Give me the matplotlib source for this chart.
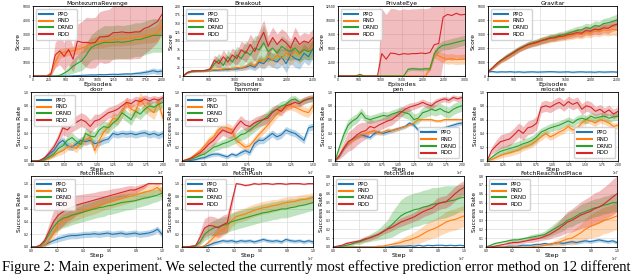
import numpy as np
import matplotlib
matplotlib.use("Agg")
import matplotlib.pyplot as plt
from matplotlib.lines import Line2D

methods = ["PPO", "RND", "DRND", "RDD"]
colors = ["#1f77b4", "#ff7f0e", "#2ca02c", "#d62728"]

# ---------------- MontezumaRevenge ----------------
mr_ppo = [0,0,0,0,0,0,0,0,0,20, 30,50,60,80,70,100,90,110,120,110, 130,150,140,180,200,250,300,380,300,350]
mr_ppo_sd = [0,0,0,0,0,0,0,0,0,20, 30,40,50,60,60,70,70,80,80,90, 90,100,100,120,140,160,180,200,200,220]
mr_rnd = [0,0,0,0,200,1000,1600,1700,1750,1800, 1900,2000,2100,2300,2400,2450,2500,2550,2600,2600, 2650,2700,2700,2750,2800,2850,2900,2950,3100,3600]
mr_rnd_sd = [0,0,0,0,150,400,350,300,300,300, 350,350,400,400,400,450,450,450,450,450, 500,500,500,500,500,500,550,550,600,700]
mr_drnd = [0,0,0,0,0,0,50,200,400,700, 900,1100,1500,2000,2200,2300,2400,2400,2400,2450, 2400,2450,2500,2600,2600,2700,2800,2900,2900,2900]
mr_drnd_sd = [0,0,0,0,0,0,50,150,300,500, 600,700,800,900,1000,1100,1200,1200,1200,1200, 1200,1200,1200,1200,1200,1200,1200,1200,1200,1200]
mr_rdd = [0,0,0,0,100,1500,1800,1400,1900,1200, 2500,2400,2400,2350,2400,2800,2800,2850,3100,3100, 3150,3100,3100,3150,3150,3400,3500,3700,3900,4400]
mr_rdd_sd = [0,0,0,0,150,900,1000,1000,1100,900, 1200,1500,1800,1800,1800,1800,1900,1900,1900,1900, 1900,1900,1900,1900,1900,1800,1700,1600,1500,1200]

# ---------------- Breakout ----------------
bo_ppo = [0,10,14,15,15,15,16,16,17,18, 18,20,20,22,25,30,25,40,35,50, 45,40,55,35,60,50,45,65,55,80]
bo_ppo_sd = [0,2,3,3,3,3,3,3,4,4, 5,5,6,6,8,10,10,15,15,20, 20,20,25,25,25,25,25,25,25,30]
bo_rnd = [0,10,14,15,15,15,16,18,18,20, 22,20,25,22,28,35,30,45,40,55, 45,60,50,65,55,70,60,75,70,85]
bo_rnd_sd = [0,2,3,3,3,3,3,4,4,5, 5,5,6,6,8,10,10,15,15,20, 20,20,20,25,25,25,25,25,25,25]
bo_drnd = [0,10,14,15,15,16,18,35,45,30, 55,40,60,50,70,60,80,75,95,70, 80,65,85,75,70,80,65,75,70,75]
bo_drnd_sd = [0,2,3,3,3,3,5,15,20,15, 20,20,25,25,30,30,35,40,50,30, 30,25,30,30,25,30,25,25,25,25]
bo_rdd = [0,10,14,15,15,16,20,45,35,55, 40,60,50,75,65,90,70,100,125,85, 110,90,105,95,80,110,90,100,95,110]
bo_rdd_sd = [0,2,3,3,3,3,5,15,15,20, 15,20,20,25,25,30,30,30,35,30, 30,30,30,30,25,30,25,25,25,25]

# ---------------- PrivateEye ----------------
pe_ppo = [0,0,0,0,0,0,0,0,0,0, 0,0,0,0,0,0,0,0,0,0, 0,0,0,0,0,0,0,0,0,0]
pe_ppo_sd = [0,0,0,0,0,0,0,0,0,0, 0,0,0,0,0,0,0,0,0,0, 0,0,0,0,0,0,0,0,0,0]
pe_rnd = [0,0,0,0,0,0,0,0,0,0, 0,0,0,0,0,0,0,0,0,0, 0,1500,4000,3600,3200,3000,3100,2900,3000,3000]
pe_rnd_sd = [0,0,0,0,0,0,0,0,0,0, 0,0,0,0,0,0,0,0,0,0, 0,500,800,800,900,900,900,900,900,900]
pe_drnd = [0,0,0,0,0,300,0,0,0,0, 0,0,0,0,0,0,1200,1300,1250,1200, 1300,1250,4000,5000,5500,5600,5800,6000,6200,6400]
pe_drnd_sd = [0,0,0,0,0,150,0,0,0,0, 0,0,0,0,0,0,300,300,300,300, 300,300,700,800,800,900,900,900,900,900]
pe_rdd = [0,0,0,0,0,0,0,0,0,0, 4000,3000,4100,4000,3800,4000,3900,4000,4000,4100, 4000,4200,5600,5800,10500,11000,10800,11200,10900,11000]
pe_rdd_sd = [0,0,0,0,0,0,0,0,0,0, 8000,8000,8000,8000,8000,8000,8000,8000,8000,8000, 8000,8000,8000,8000,8000,8000,8000,8000,8000,8000]

# ---------------- Gravitar ----------------
gv_ppo = [300,320,280,300,290,310,280,300,270,290, 300,280,290,300,310,300,280,290,300,270, 290,300,280,290,270,300,280,290,300,280]
gv_ppo_sd = [60,60,60,60,60,60,60,60,60,60, 60,60,60,60,60,60,60,60,60,60, 60,60,60,60,60,60,60,60,60,60]
gv_rnd = [300,550,850,1100,1300,1500,1700,1900,2050,2200, 2300,2350,2500,2550,2650,2700,2750,2800,2850,2900, 3000,2950,3100,3050,3200,3150,3300,3250,3350,3300]
gv_rnd_sd = [50,100,150,150,200,200,200,200,200,220, 220,220,240,240,250,250,260,260,280,280, 300,300,320,320,340,350,380,400,420,450]
gv_drnd = [300,600,900,1150,1350,1550,1750,1950,2100,2250, 2350,2450,2550,2650,2750,2800,2900,2950,3050,3150, 3250,3300,3450,3400,3600,3550,3750,3800,3900,4000]
gv_drnd_sd = [50,100,150,150,200,200,200,200,200,220, 220,220,240,240,250,250,260,260,280,280, 300,300,320,320,340,350,360,380,400,420]
gv_rdd = [300,580,880,1120,1330,1520,1720,1920,2080,2230, 2320,2400,2520,2600,2700,2720,2820,2850,2950,3000, 3100,3050,3250,3200,3350,3300,3450,3400,3600,3700]
gv_rdd_sd = [50,100,150,150,200,200,200,200,200,220, 220,220,240,240,250,250,260,260,280,280, 300,300,320,320,340,350,360,380,400,420]

# ---------------- door ----------------
door_ppo = [0,0,.01,.04,.10,.15,.25,.30,.22,.20, .25,.30,.28,.30,.25,.27,.30,.32,.40,.38, .40,.39,.40,.38,.40,.41,.38,.40,.37,.40]
door_ppo_sd = [0,0,.01,.02,.03,.04,.05,.05,.05,.05, .05,.05,.05,.05,.05,.05,.05,.05,.05,.05, .05,.05,.05,.05,.05,.05,.05,.05,.05,.05]
door_rnd = [0,0,0,.01,.04,.08,.12,.15,.20,.22, .18,.28,.30,.35,.15,.30,.42,.50,.62,.60, .70,.85,.75,.72,.90,.80,.75,.70,.85,.62]
door_rnd_sd = [0,0,0,.01,.02,.03,.04,.05,.05,.06, .06,.07,.07,.08,.06,.08,.08,.08,.08,.08, .08,.08,.08,.10,.10,.10,.10,.10,.10,.10]
door_drnd = [0,0,0,.02,.06,.10,.18,.22,.30,.34, .28,.24,.40,.36,.35,.45,.50,.48,.55,.60, .70,.65,.60,.72,.68,.75,.80,.78,.82,.85]
door_drnd_sd = [0,0,0,.01,.03,.04,.05,.06,.06,.07, .07,.07,.08,.08,.08,.08,.08,.08,.08,.08, .08,.08,.08,.08,.08,.08,.08,.08,.08,.08]
door_rdd = [0,0,.01,.05,.12,.20,.32,.48,.45,.52, .56,.60,.57,.50,.58,.60,.65,.70,.72,.75, .80,.85,.83,.88,.86,.90,.87,.90,.88,.92]
door_rdd_sd = [0,0,.01,.03,.05,.06,.08,.10,.10,.10, .10,.10,.10,.10,.10,.08,.08,.08,.08,.08, .07,.07,.07,.06,.06,.06,.06,.05,.05,.05]

# ---------------- hammer ----------------
ham_ppo = [0,0,.01,.02,.04,.05,.08,.10,.10,.08, .06,.10,.08,.12,.15,.12,.25,.30,.30,.35, .40,.35,.38,.45,.42,.40,.35,.30,.48,.50]
ham_ppo_sd = [0,0,.01,.01,.02,.02,.03,.03,.03,.03, .03,.03,.03,.04,.04,.04,.05,.05,.05,.05, .05,.05,.05,.05,.05,.05,.05,.05,.05,.05]
ham_rnd = [0,.02,.05,.10,.15,.22,.30,.35,.45,.50, .48,.45,.30,.25,.20,.22,.30,.38,.45,.52, .60,.68,.75,.78,.80,.78,.75,.72,.70,.80]
ham_rnd_sd = [0,.01,.02,.03,.04,.05,.06,.06,.07,.07, .07,.07,.06,.06,.05,.05,.06,.06,.06,.06, .06,.06,.06,.06,.06,.06,.07,.07,.07,.07]
ham_drnd = [0,.01,.03,.05,.08,.10,.15,.20,.22,.25, .27,.30,.33,.38,.40,.45,.50,.55,.60,.65, .72,.75,.80,.82,.88,.90,.85,.87,.90,.90]
ham_drnd_sd = [0,.01,.02,.03,.04,.05,.05,.06,.06,.06, .07,.07,.07,.08,.08,.08,.08,.08,.08,.08, .07,.07,.07,.06,.06,.05,.05,.05,.05,.05]
ham_rdd = [0,.02,.04,.08,.12,.18,.25,.30,.38,.45, .42,.40,.50,.58,.52,.50,.55,.58,.60,.62, .70,.75,.72,.80,.82,.85,.83,.88,.90,.92]
ham_rdd_sd = [0,.01,.02,.03,.04,.05,.06,.07,.08,.08, .08,.08,.08,.08,.08,.08,.08,.08,.08,.08, .07,.07,.07,.06,.06,.06,.05,.05,.05,.05]

# ---------------- pen ----------------
pen_ppo = [0,.07,.18,.26,.32,.35,.38,.36,.34,.40, .42,.40,.42,.44,.46,.48,.50,.55,.52,.45, .43,.42,.44,.45,.46,.48,.50,.52,.54,.55]
pen_ppo_sd = [0,.02,.03,.03,.03,.03,.03,.03,.03,.03, .03,.03,.03,.03,.03,.03,.03,.03,.03,.03, .03,.03,.03,.03,.03,.03,.03,.03,.03,.03]
pen_rnd = [0,.08,.20,.26,.30,.35,.38,.40,.42,.44, .40,.42,.45,.44,.46,.48,.50,.52,.55,.60, .60,.60,.60,.58,.58,.60,.60,.60,.60,.60]
pen_rnd_sd = [0,.03,.04,.04,.03,.03,.03,.03,.03,.03, .03,.03,.03,.03,.03,.02,.02,.02,.02,.02, .02,.02,.02,.02,.02,.02,.02,.02,.02,.02]
pen_drnd = [0,.20,.38,.52,.58,.62,.70,.62,.60,.62, .64,.66,.65,.68,.70,.72,.70,.68,.60,.62, .70,.72,.75,.73,.76,.72,.70,.75,.78,.80]
pen_drnd_sd = [0,.05,.08,.08,.07,.07,.07,.06,.06,.06, .06,.06,.06,.06,.06,.07,.08,.08,.08,.08, .08,.08,.08,.08,.08,.08,.08,.08,.08,.08]
pen_rdd = [0,.08,.18,.28,.32,.38,.42,.44,.50,.48, .52,.55,.58,.60,.65,.70,.75,.78,.80,.82, .85,.82,.80,.85,.88,.90,.88,.92,.90,.92]
pen_rdd_sd = [0,.05,.10,.14,.15,.15,.14,.12,.10,.10, .08,.08,.08,.08,.07,.07,.06,.06,.05,.05, .05,.05,.05,.05,.04,.04,.04,.04,.04,.04]

# ---------------- relocate ----------------
rel_ppo = [0,0,0,0,0,0,0,0,0,0, 0,0,0,0,0,0,0,0,0,0, 0,0,0,0,0,0,0,0,0,0]
rel_ppo_sd = [0,0,0,0,0,0,0,0,0,0, 0,0,0,0,0,0,0,0,0,0, 0,0,0,0,0,0,0,0,0,0]
rel_rnd = [0,.02,.05,.08,.10,.12,.14,.16,.20,.22, .25,.30,.35,.40,.35,.38,.42,.45,.50,.45, .48,.55,.60,.58,.55,.60,.58,.55,.50,.52]
rel_rnd_sd = [0,.02,.03,.04,.04,.05,.05,.05,.05,.05, .05,.05,.05,.05,.05,.05,.05,.05,.05,.05, .05,.05,.05,.05,.05,.05,.05,.05,.05,.05]
rel_drnd = [0,.05,.10,.14,.16,.18,.20,.22,.25,.27, .30,.35,.42,.45,.48,.50,.52,.55,.58,.55, .60,.62,.60,.65,.62,.64,.65,.62,.64,.65]
rel_drnd_sd = [0,.03,.05,.06,.06,.07,.07,.07,.07,.07, .07,.07,.06,.06,.06,.06,.06,.06,.06,.06, .06,.06,.06,.06,.06,.06,.06,.06,.06,.06]
rel_rdd = [0,.15,.22,.28,.30,.32,.38,.45,.40,.48, .50,.55,.78,.80,.78,.82,.85,.80,.86,.82, .85,.75,.80,.78,.72,.75,.70,.74,.68,.72]
rel_rdd_sd = [0,.05,.08,.10,.10,.10,.10,.10,.10,.10, .10,.10,.08,.08,.08,.08,.08,.08,.08,.08, .08,.08,.08,.08,.07,.07,.07,.07,.07,.07]

# ---------------- FetchReach ----------------
fr_ppo = [0,0,.01,.03,.07,.10,.13,.15,.17,.18, .18,.19,.20,.20,.21,.20,.21,.22,.20,.21, .22,.20,.21,.22,.20,.21,.22,.24,.28,.20]
fr_ppo_sd = [0,0,.01,.02,.03,.04,.05,.05,.05,.05, .05,.05,.05,.05,.05,.05,.05,.05,.05,.05, .05,.05,.05,.05,.05,.05,.05,.05,.05,.05]
fr_rnd = [0,0,.01,.03,.10,.22,.35,.42,.45,.50, .52,.55,.58,.60,.62,.65,.68,.70,.72,.74, .76,.78,.80,.82,.84,.86,.88,.90,.94,.86]
fr_rnd_sd = [0,0,.01,.03,.06,.08,.10,.10,.10,.10, .10,.10,.10,.10,.10,.10,.10,.10,.10,.10, .10,.10,.10,.10,.10,.10,.10,.08,.08,.08]
fr_drnd = [0,0,.02,.08,.20,.32,.40,.45,.47,.50, .52,.54,.56,.58,.60,.62,.63,.65,.66,.68, .70,.71,.72,.73,.75,.77,.78,.80,.82,.85]
fr_drnd_sd = [0,0,.02,.05,.10,.12,.14,.15,.15,.15, .15,.15,.15,.15,.15,.15,.15,.14,.14,.14, .14,.13,.13,.12,.12,.12,.11,.10,.10,.10]
fr_rdd = [0,0,.03,.10,.25,.40,.50,.55,.60,.62, .66,.68,.70,.72,.74,.76,.78,.80,.82,.84, .86,.88,.90,.90,.93,.96,1.0,1.0,1.0,1.0]
fr_rdd_sd = [0,0,.02,.06,.12,.18,.22,.22,.20,.18, .16,.15,.14,.13,.12,.12,.11,.10,.10,.09, .08,.08,.07,.06,.05,.04,.02,.01,.01,.01]

# ---------------- FetchPush ----------------
fp_ppo = [0,0,0,0,0,.01,.03,.06,.08,.10, .09,.10,.08,.10,.09,.10,.08,.10,.12,.10, .09,.10,.08,.12,.10,.09,.10,.08,.10,.08]
fp_ppo_sd = [0,0,0,0,0,.01,.02,.03,.03,.03, .03,.03,.03,.03,.03,.03,.03,.03,.03,.03, .03,.03,.03,.03,.03,.03,.03,.03,.03,.03]
fp_rnd = [0,0,0,0,0,.02,.08,.15,.22,.27, .32,.42,.48,.50,.52,.55,.58,.60,.62,.63, .65,.66,.68,.70,.71,.72,.74,.75,.76,.78]
fp_rnd_sd = [0,0,0,0,0,.02,.05,.08,.10,.10, .10,.10,.10,.10,.10,.10,.10,.10,.10,.10, .10,.09,.09,.09,.09,.08,.08,.08,.08,.08]
fp_drnd = [0,0,.01,.02,.08,.20,.26,.30,.32,.34, .36,.40,.42,.44,.46,.48,.50,.52,.54,.55, .57,.58,.60,.60,.62,.63,.65,.66,.68,.70]
fp_drnd_sd = [0,0,.01,.02,.05,.10,.12,.12,.13,.13, .13,.14,.14,.14,.14,.14,.14,.14,.14,.14, .14,.14,.14,.14,.14,.13,.13,.12,.12,.12]
fp_rdd = [0,0,.01,.02,.15,.30,.34,.33,.30,.35, .38,.70,1.0,.99,.97,.98,1.0,.99,1.0,1.0, .99,1.0,1.0,.99,1.0,1.0,1.0,.99,1.0,1.0]
fp_rdd_sd = [0,0,.01,.02,.10,.15,.15,.15,.15,.15, .15,.10,.01,.01,.01,.01,.01,.01,.01,.01, .01,.01,.01,.01,.01,.01,.01,.01,.01,.01]

# ---------------- FetchSlide ----------------
fs_ppo = [0,0,0,0,0,0,0,0,0,0, 0,0,0,.005,.01,.01,.01,.015,.01,.02, .01,.02,.015,.02,.02,.015,.02,.015,.02,.015]
fs_ppo_sd = [0,0,0,0,0,0,0,0,0,0, 0,0,0,.005,.005,.005,.005,.005,.005,.005, .005,.005,.005,.005,.005,.005,.005,.005,.005,.005]
fs_rnd = [0,0,0,0,0,0,0,0,0,0, .01,.01,.02,.03,.04,.05,.07,.08,.10,.12, .15,.18,.20,.22,.25,.28,.30,.31,.33,.35]
fs_rnd_sd = [0,0,0,0,0,0,0,0,0,0, .005,.01,.01,.02,.03,.04,.05,.06,.07,.08, .09,.10,.10,.11,.11,.12,.12,.12,.12,.12]
fs_drnd = [0,0,.01,.02,.03,.05,.06,.08,.10,.12, .14,.17,.20,.25,.30,.35,.38,.40,.42,.43, .45,.46,.48,.49,.50,.51,.52,.53,.55,.56]
fs_drnd_sd = [0,0,.01,.01,.02,.02,.03,.03,.04,.05, .06,.08,.10,.14,.16,.18,.19,.19,.19,.19, .19,.19,.19,.18,.18,.18,.17,.16,.15,.15]
fs_rdd = [0,.01,.02,.04,.05,.06,.07,.09,.10,.12, .14,.17,.20,.22,.25,.28,.30,.32,.34,.37, .40,.42,.44,.48,.50,.51,.55,.60,.64,.67]
fs_rdd_sd = [0,.01,.01,.02,.02,.02,.02,.03,.03,.03, .03,.03,.04,.04,.04,.05,.05,.05,.05,.06, .06,.06,.06,.07,.07,.07,.08,.08,.08,.08]

# ---------------- FetchReachandPlace ----------------
frp_ppo = [0,0,0,0,0,.01,.01,.01,.02,.02, .02,.03,.03,.04,.03,.04,.05,.04,.05,.06, .05,.06,.07,.06,.07,.08,.07,.06,.07,.05]
frp_ppo_sd = [0,0,0,0,0,.005,.005,.01,.01,.01, .01,.01,.01,.015,.015,.015,.02,.02,.02,.02, .02,.02,.02,.02,.02,.02,.02,.02,.02,.02]
frp_rnd = [0,0,0,0,0,0,0,0,0,0, 0,.01,.01,.02,.03,.04,.05,.07,.09,.10, .13,.16,.20,.23,.25,.27,.30,.31,.33,.35]
frp_rnd_sd = [0,0,0,0,0,0,0,0,0,0, 0,.005,.01,.01,.02,.03,.04,.05,.06,.08, .09,.10,.12,.13,.14,.15,.15,.15,.15,.15]
frp_drnd = [0,.02,.04,.05,.06,.07,.08,.08,.09,.10, .11,.12,.13,.14,.17,.20,.23,.26,.30,.32, .35,.38,.40,.42,.44,.45,.47,.48,.50,.50]
frp_drnd_sd = [0,.01,.01,.01,.01,.02,.02,.02,.02,.02, .03,.03,.03,.04,.05,.06,.07,.08,.08,.09, .09,.10,.10,.10,.10,.10,.10,.10,.10,.10]
frp_rdd = [0,0,.01,.02,.03,.04,.05,.05,.06,.07, .08,.09,.10,.12,.14,.17,.20,.24,.28,.30, .33,.36,.38,.40,.43,.45,.48,.52,.56,.60]
frp_rdd_sd = [0,0,.01,.01,.01,.02,.02,.02,.02,.02, .03,.03,.03,.04,.05,.06,.08,.10,.12,.13, .14,.15,.16,.17,.18,.18,.19,.19,.20,.20]

panels = [
    dict(title="MontezumaRevenge", xl="Episodes", yl="Score", xmax=2000, xstep=250,
         ylim=(0, 5000), ystep=1000, loc="upper left",
         m=[mr_ppo, mr_rnd, mr_drnd, mr_rdd], s=[mr_ppo_sd, mr_rnd_sd, mr_drnd_sd, mr_rdd_sd]),
    dict(title="Breakout", xl="Episodes", yl="Score", xmax=2500, xstep=500,
         ylim=(0, 200), ystep=25, loc="upper left",
         m=[bo_ppo, bo_rnd, bo_drnd, bo_rdd], s=[bo_ppo_sd, bo_rnd_sd, bo_drnd_sd, bo_rdd_sd]),
    dict(title="PrivateEye", xl="Episodes", yl="Score", xmax=3000, xstep=500,
         ylim=(0, 12500), ystep=2500, loc="upper left",
         m=[pe_ppo, pe_rnd, pe_drnd, pe_rdd], s=[pe_ppo_sd, pe_rnd_sd, pe_drnd_sd, pe_rdd_sd]),
    dict(title="Gravitar", xl="Episodes", yl="Score", xmax=2500, xstep=500,
         ylim=(0, 5000), ystep=1000, loc="upper left",
         m=[gv_ppo, gv_rnd, gv_drnd, gv_rdd], s=[gv_ppo_sd, gv_rnd_sd, gv_drnd_sd, gv_rdd_sd]),
    dict(title="door", xl="Step", yl="Success Rate", xmax=2e7, xstep=0.25e7,
         ylim=(0, 1.0), ystep=0.2, loc="upper left",
         m=[door_ppo, door_rnd, door_drnd, door_rdd], s=[door_ppo_sd, door_rnd_sd, door_drnd_sd, door_rdd_sd]),
    dict(title="hammer", xl="Step", yl="Success Rate", xmax=1.5e7, xstep=0.25e7,
         ylim=(0, 1.0), ystep=0.2, loc="upper left",
         m=[ham_ppo, ham_rnd, ham_drnd, ham_rdd], s=[ham_ppo_sd, ham_rnd_sd, ham_drnd_sd, ham_rdd_sd]),
    dict(title="pen", xl="Step", yl="Success Rate", xmax=2e7, xstep=0.25e7,
         ylim=(0, 1.0), ystep=0.2, loc="lower right",
         m=[pen_ppo, pen_rnd, pen_drnd, pen_rdd], s=[pen_ppo_sd, pen_rnd_sd, pen_drnd_sd, pen_rdd_sd]),
    dict(title="relocate", xl="Step", yl="Success Rate", xmax=2e7, xstep=0.25e7,
         ylim=(0, 1.0), ystep=0.2, loc="lower right",
         m=[rel_ppo, rel_rnd, rel_drnd, rel_rdd], s=[rel_ppo_sd, rel_rnd_sd, rel_drnd_sd, rel_rdd_sd]),
    dict(title="FetchReach", xl="Step", yl="Success Rate", xmax=1e6, xstep=2e5,
         ylim=(0, 1.12), ystep=0.2, loc="upper left",
         m=[fr_ppo, fr_rnd, fr_drnd, fr_rdd], s=[fr_ppo_sd, fr_rnd_sd, fr_drnd_sd, fr_rdd_sd]),
    dict(title="FetchPush", xl="Step", yl="Success Rate", xmax=1e7, xstep=2e6,
         ylim=(0, 1.12), ystep=0.2, loc="upper left",
         m=[fp_ppo, fp_rnd, fp_drnd, fp_rdd], s=[fp_ppo_sd, fp_rnd_sd, fp_drnd_sd, fp_rdd_sd]),
    dict(title="FetchSlide", xl="Step", yl="Success Rate", xmax=1e7, xstep=2e6,
         ylim=(0, 0.8), ystep=0.1, loc="upper left",
         m=[fs_ppo, fs_rnd, fs_drnd, fs_rdd], s=[fs_ppo_sd, fs_rnd_sd, fs_drnd_sd, fs_rdd_sd]),
    dict(title="FetchReachandPlace", xl="Step", yl="Success Rate", xmax=1e7, xstep=2e6,
         ylim=(0, 0.8), ystep=0.1, loc="upper left",
         m=[frp_ppo, frp_rnd, frp_drnd, frp_rdd], s=[frp_ppo_sd, frp_rnd_sd, frp_drnd_sd, frp_rdd_sd]),
]

# axes boxes in pixels: (left, top, right, bottom)
W, H = 640, 276
boxes = [
    (33, 6, 162, 76), (183, 6, 313, 76), (338, 6, 465, 76), (488, 6, 617, 76),
    (31, 92, 163, 161), (182, 92, 313, 161), (335, 92, 462, 161), (487, 92, 618, 161),
    (31, 176, 162, 247), (182, 176, 313, 247), (333, 176, 464, 247), (486, 176, 617, 247),
]

plt.rcParams["axes.linewidth"] = 0.6
fig = plt.figure(figsize=(W / 100, H / 100), dpi=100)

for p, (l, t, r, b) in zip(panels, boxes):
    ax = fig.add_axes([l / W, 1 - b / H, (r - l) / W, (b - t) / H])
    for mean, sd, c, name in zip(p["m"], p["s"], colors, methods):
        mean = np.asarray(mean, float)
        sd = np.asarray(sd, float)
        x = np.linspace(0, p["xmax"], len(mean))
        ax.fill_between(x, mean - sd, mean + sd, color=c, alpha=0.3, lw=0)
        ax.plot(x, mean, color=c, lw=0.8, label=name)
    ax.set_xlim(0, p["xmax"])
    ax.set_ylim(*p["ylim"])
    ax.set_xticks(np.arange(0, p["xmax"] * 1.0001, p["xstep"]))
    ax.set_yticks(np.arange(0, p["ylim"][1] * 1.0001, p["ystep"]))
    ax.grid(True, color="#dddddd", lw=0.5)
    ax.set_axisbelow(True)
    ax.tick_params(labelsize=2.2, length=1.0, width=0.4, pad=0.6)
    ax.xaxis.get_offset_text().set_fontsize(2.2)
    ax.set_title(p["title"], fontsize=4.3, pad=0.8)
    ax.set_xlabel(p["xl"], fontsize=4.6, labelpad=0)
    ax.set_ylabel(p["yl"], fontsize=4.3, labelpad=1.2)
    handles = [Line2D([], [], color=c, lw=1.5) for c in colors]
    ax.legend(handles, methods, loc=p["loc"], fontsize=4, handlelength=2.6,
              labelspacing=0.35, borderpad=0.5, framealpha=0.85, edgecolor="#cccccc")

fig.text(0.003, 5 / H, "Figure 2: Main experiment. We selected the currently most effective prediction error method on 12 different",
         family="Liberation Serif", fontsize=10.5, ha="left", va="baseline")

fig.savefig("out.png", dpi=100)
